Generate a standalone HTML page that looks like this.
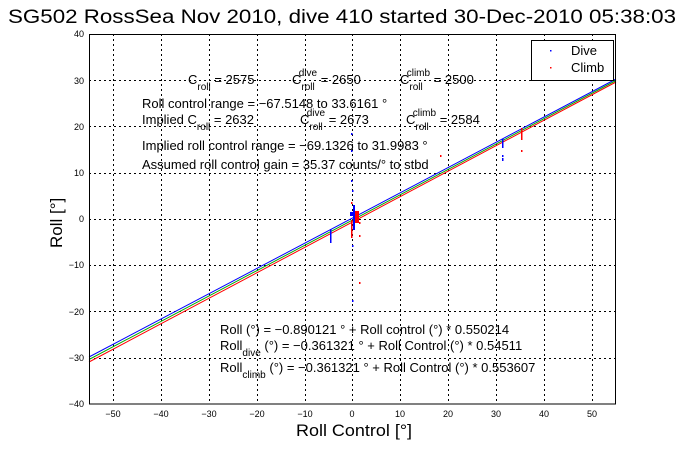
<!DOCTYPE html>
<html><head><style>
body{margin:0;background:#fff;}
svg text{font-family:"Liberation Sans",Arial,sans-serif;fill:#000;}
</style></head><body>
<svg width="681" height="454" xmlns="http://www.w3.org/2000/svg">
<rect width="681" height="454" fill="#fff"/>
<g stroke="#000" stroke-width="1" stroke-dasharray="2,3">
<line x1="113.5" y1="34" x2="113.5" y2="404"/><line x1="161.5" y1="34" x2="161.5" y2="404"/>
<line x1="209.5" y1="34" x2="209.5" y2="404"/><line x1="257.5" y1="34" x2="257.5" y2="404"/>
<line x1="305.5" y1="34" x2="305.5" y2="404"/><line x1="352.5" y1="34" x2="352.5" y2="404"/>
<line x1="400.5" y1="34" x2="400.5" y2="404"/><line x1="448.5" y1="34" x2="448.5" y2="404"/>
<line x1="496.5" y1="34" x2="496.5" y2="404"/><line x1="544.5" y1="34" x2="544.5" y2="404"/>
<line x1="592.5" y1="34" x2="592.5" y2="404"/>
<line x1="89" y1="80.5" x2="616" y2="80.5"/><line x1="89" y1="126.5" x2="616" y2="126.5"/>
<line x1="89" y1="173.5" x2="616" y2="173.5"/><line x1="89" y1="219.5" x2="616" y2="219.5"/>
<line x1="89" y1="265.5" x2="616" y2="265.5"/><line x1="89" y1="311.5" x2="616" y2="311.5"/>
<line x1="89" y1="358.5" x2="616" y2="358.5"/>
</g>
<g font-size="9" text-anchor="end">
<text x="84" y="37">40</text><text x="84" y="84">30</text><text x="84" y="130">20</text>
<text x="84" y="176">10</text><text x="84" y="222">0</text><text x="84" y="268">−10</text>
<text x="84" y="315">−20</text><text x="84" y="361">−30</text><text x="84" y="407">−40</text>
</g>
<g font-size="9" text-anchor="middle">
<text x="113" y="417">−50</text><text x="161" y="417">−40</text><text x="209" y="417">−30</text>
<text x="257" y="417">−20</text><text x="305" y="417">−10</text><text x="352" y="417">0</text>
<text x="400" y="417">10</text><text x="448" y="417">20</text><text x="496" y="417">30</text>
<text x="544" y="417">40</text><text x="592" y="417">50</text>
</g>
<g stroke-width="1">
<line x1="89" y1="362" x2="616" y2="82" stroke="#f00"/>
<line x1="89" y1="359.5" x2="616" y2="80.5" stroke="#0a0"/>
<line x1="89" y1="357" x2="616" y2="79" stroke="#00f"/>
</g>
<g fill="#00f">
<rect x="351" y="133" width="1.5" height="2"/><rect x="351" y="150" width="1.5" height="2"/>
<rect x="351" y="180" width="1.5" height="2"/><rect x="352" y="190" width="1.5" height="2"/>
<rect x="353" y="205" width="2" height="25"/><rect x="350" y="212" width="4" height="4"/>
<rect x="352" y="245" width="1.5" height="2"/><rect x="352" y="300" width="1.5" height="2"/>
<rect x="330" y="229" width="1.5" height="14"/><rect x="502" y="139" width="1.5" height="9"/>
<rect x="502" y="155" width="1.5" height="2"/><rect x="502" y="158" width="1.5" height="3"/>
<rect x="521" y="128" width="1.5" height="8"/>
</g>
<g fill="#f00">
<rect x="351" y="202" width="1.5" height="2"/><rect x="355" y="211" width="4" height="12"/>
<rect x="351" y="220" width="1.5" height="18"/><rect x="359" y="222" width="1.5" height="2"/>
<rect x="359" y="235" width="1.5" height="2"/><rect x="359" y="282" width="1.5" height="2"/>
<rect x="521" y="128" width="1.5" height="12"/><rect x="521" y="150" width="1.5" height="2"/>
<rect x="440" y="155" width="1.5" height="2"/>
</g>
<rect x="89.5" y="34.5" width="526" height="369.5" fill="none" stroke="#000"/>
<rect x="531.5" y="40.5" width="82" height="40" fill="#fff" stroke="#000"/>
<rect x="550" y="50" width="1.5" height="1.5" fill="#00f"/><rect x="550" y="67" width="1.5" height="1.5" fill="#f00"/>
<text x="571" y="55" font-size="13">Dive</text><text x="571" y="72" font-size="13">Climb</text>
<text x="8" y="23" font-size="19" textLength="668" lengthAdjust="spacingAndGlyphs">SG502 RossSea Nov 2010, dive 410 started 30-Dec-2010 05:38:03</text>
<text x="296" y="436" font-size="17" textLength="116" lengthAdjust="spacingAndGlyphs">Roll Control [°]</text>
<text transform="translate(62,248) rotate(-90)" font-size="17">Roll [°]</text>
<g font-size="13">
<text x="188" y="84">C<tspan font-size="10" dy="6">roll</tspan><tspan dy="-6"> = 2575</tspan></text>
<text x="292" y="84">C<tspan font-size="10" dy="6" dx="0">roll</tspan><tspan font-size="10" dx="-16" dy="-14">dive</tspan><tspan dy="8"> = 2650</tspan></text>
<text x="400" y="84">C<tspan font-size="10" dy="6">roll</tspan><tspan font-size="10" dx="-16" dy="-14">climb</tspan><tspan dy="8"> = 2500</tspan></text>
<text x="142" y="108">Roll control range = −67.5148 to 33.6161 °</text>
<text x="142" y="124">Implied C<tspan font-size="10" dy="6">roll</tspan><tspan dy="-6"> = 2632</tspan></text>
<text x="300" y="124">C<tspan font-size="10" dy="6">roll</tspan><tspan font-size="10" dx="-16" dy="-14">dive</tspan><tspan dy="8"> = 2673</tspan></text>
<text x="406" y="124">C<tspan font-size="10" dy="6">roll</tspan><tspan font-size="10" dx="-16" dy="-14">climb</tspan><tspan dy="8"> = 2584</tspan></text>
<text x="142" y="150">Implied roll control range = −69.1326 to 31.9983 °</text>
<text x="142" y="169">Assumed roll control gain = 35.37 counts/° to stbd</text>
<text x="220" y="334">Roll (°) = −0.890121 ° + Roll control (°) * 0.550214</text>
<text x="220" y="350">Roll<tspan font-size="10" dy="6">dive</tspan><tspan dy="-6"> (°) = −0.361321 ° + Roll Control (°) * 0.54511</tspan></text>
<text x="220" y="372">Roll<tspan font-size="10" dy="6">climb</tspan><tspan dy="-6"> (°) = −0.361321 ° + Roll Control (°) * 0.553607</tspan></text>
</g>
</svg>
</body></html>
